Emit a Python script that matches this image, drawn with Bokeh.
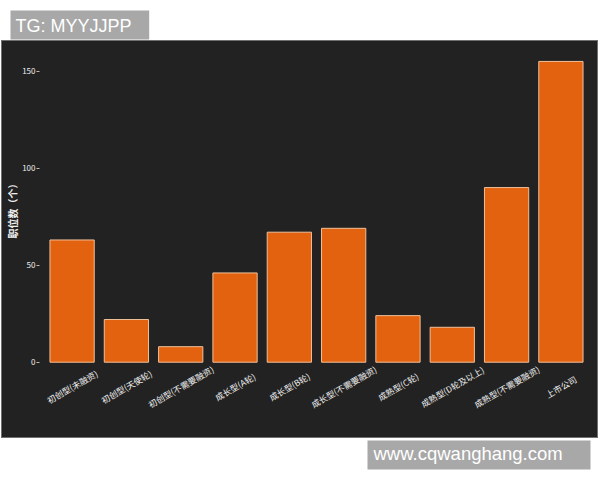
import math
from bokeh.plotting import figure
from bokeh.models import ColumnDataSource, FactorRange, Range1d, FixedTicker, Title
from bokeh.layouts import column
from bokeh.core.properties import value
from bokeh.embed import file_html
from bokeh.resources import INLINE

# ---- data ----
categories = ["初创型(未融资)", "初创型(天使轮)", "初创型(不需要融资)", "成长型(A轮)", "成长型(B轮)",
              "成长型(不需要融资)", "成熟型(C轮)", "成熟型(D轮及以上)", "成熟型(不需要融资)", "上市公司"]
counts = [63, 22, 8, 46, 67, 69, 24, 18, 90, 155]
y_ticks = [0, 50, 100, 150]
y_title = "职位数（个）"
watermark_top = "TG: MYYJJPP"
watermark_bottom = "www.cqwanghang.com"

# ---- styles ----
W = 600
BG = "#222222"
BAR_FILL = "#e3620f"
BAR_LINE = "#f0c09a"
CJK = "Noto Sans CJK SC"
WM_FONT = "Liberation Sans"
WM_BOX = "#a8a8a8"
LABEL_Y = -12.5   # data-space offset of the rotated category labels below zero


def band(height):
    f = figure(width=W, height=height, x_range=Range1d(0, W), y_range=Range1d(height, 0),
               x_axis_location=None, y_axis_location=None, toolbar_location=None,
               output_backend="svg", min_border=0, frame_align=False,
               background_fill_color="white", border_fill_color="white")
    f.outline_line_color = None
    f.grid.visible = False
    return f


top = band(41)
top.quad(left=[10], right=[148.7], top=[10], bottom=[39], fill_color=WM_BOX, line_color=None)
top.text(x=[15], y=[25.2], text=[watermark_top], text_font=value(WM_FONT),
         text_font_size="18px", text_color="white", text_baseline="alphabetic")

src = ColumnDataSource(data=dict(cat=categories, count=counts))

p = figure(width=595, height=396, margin=(0, 3, 0, 2),
           x_range=FactorRange(factors=categories, range_padding=0.02),
           y_range=Range1d(-38.8, 162.7),
           x_axis_location=None, toolbar_location=None, output_backend="svg",
           min_border_left=35, min_border_right=4, min_border_top=5, min_border_bottom=0,
           frame_align=False,
           styles={"background-color": BG, "box-shadow": "0 0 0 1px #707070",
                   "position": "relative", "z-index": "1"},
           background_fill_color=BG, border_fill_color=BG)
p.outline_line_color = None
p.grid.visible = False

p.vbar(x="cat", top="count", bottom=0, width=0.815, source=src,
       fill_color=BAR_FILL, line_color=BAR_LINE, line_width=1)

p.text(x="cat", y=LABEL_Y, text="cat", source=src, angle=math.pi / 6,
       text_align="center", text_baseline="middle",
       text_font=value(CJK), text_font_size="8.5px", text_color="#f2f2f2")

ax = p.yaxis[0]
ax.ticker = FixedTicker(ticks=y_ticks)
ax.minor_tick_line_color = None
ax.axis_line_color = None
ax.major_tick_in = 0
ax.major_tick_out = 3
ax.major_tick_line_color = "#bbbbbb"
ax.major_label_text_font = CJK
ax.major_label_text_font_size = "8px"
ax.major_label_text_color = "#eeeeee"
ax.major_label_standoff = 1

p.add_layout(Title(text=y_title, align="right", offset=132, standoff=0,
                   text_font=CJK, text_font_size="10px", text_font_style="bold",
                   text_color="#f0f0f0"), "left")

bottom = band(43)
bottom.quad(left=[367], right=[590], top=[3], bottom=[32], fill_color=WM_BOX, line_color=None)
bottom.text(x=[373], y=[15.8], text=[watermark_bottom], text_font=value(WM_FONT),
            text_font_size="18.5px", text_color="white", text_baseline="alphabetic")

layout = column(top, p, bottom, spacing=0)

open("out.html", "w").write(file_html(layout, INLINE))
